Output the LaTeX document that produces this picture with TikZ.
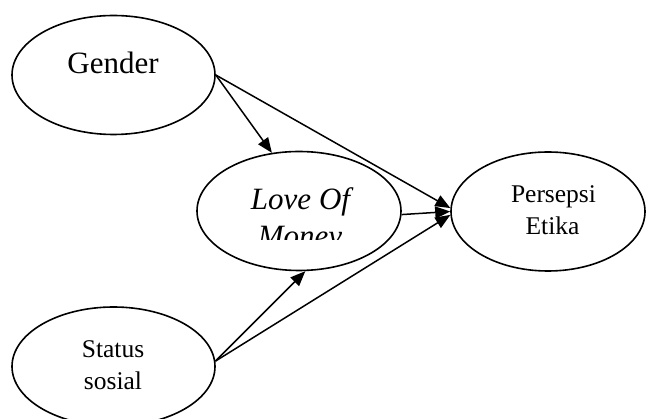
\documentclass[tikz,border=0pt]{standalone}
\usepackage{fontspec}
\setmainfont{Liberation Serif}
\usetikzlibrary{shapes.geometric,arrows.meta}
\begin{document}
\begin{tikzpicture}[x=1pt,y=-1pt,
  oval/.style={draw, ellipse, line width=1.6pt, inner sep=0pt, minimum width=203pt, minimum height=119pt},
  bigtxt/.style={anchor=base, inner sep=0pt, font=\fontsize{31}{37}\selectfont},
  smalltxt/.style={anchor=base, inner sep=0pt, font=\fontsize{25.5}{32}\selectfont},
  link/.style={line width=1.5pt, -{Triangle[length=15pt, width=12pt]}}]
\useasboundingbox (0,0) rectangle (646,419);
\node[oval] (gender) at (113.5,75) {};
\node[oval, minimum width=204pt] (love) at (299,211) {};
\node[oval, minimum width=194pt] (persepsi) at (548,211.5) {};
\node[oval] (status) at (113.5,366.5) {};
\node[bigtxt] (tg) at (113,74) {Gender};
\node[bigtxt, font=\fontsize{31}{37}\selectfont\itshape] (tl) at (300.5,210) {Love Of};
\begin{scope}
\clip (200,150) rectangle (400,240);
\node[bigtxt, font=\fontsize{31}{37}\selectfont\itshape] (tm) at (300,247) {Money};
\end{scope}
\node[smalltxt] (tp) at (553.5,203) {Persepsi};
\node[smalltxt] (te) at (552.5,235) {Etika};
\node[smalltxt] (ts) at (113,358) {Status};
\node[smalltxt] (tso) at (113,390) {sosial};
\draw[link] (gender.east) -- (love.115);
\draw[link] (gender.east) -- (persepsi.178);
\draw[link] (love.-2) -- (persepsi.west);
\draw[link] (status.3) -- (persepsi.182);
\draw[link] (status.3) -- (love.-84);
\end{tikzpicture}
\end{document}
